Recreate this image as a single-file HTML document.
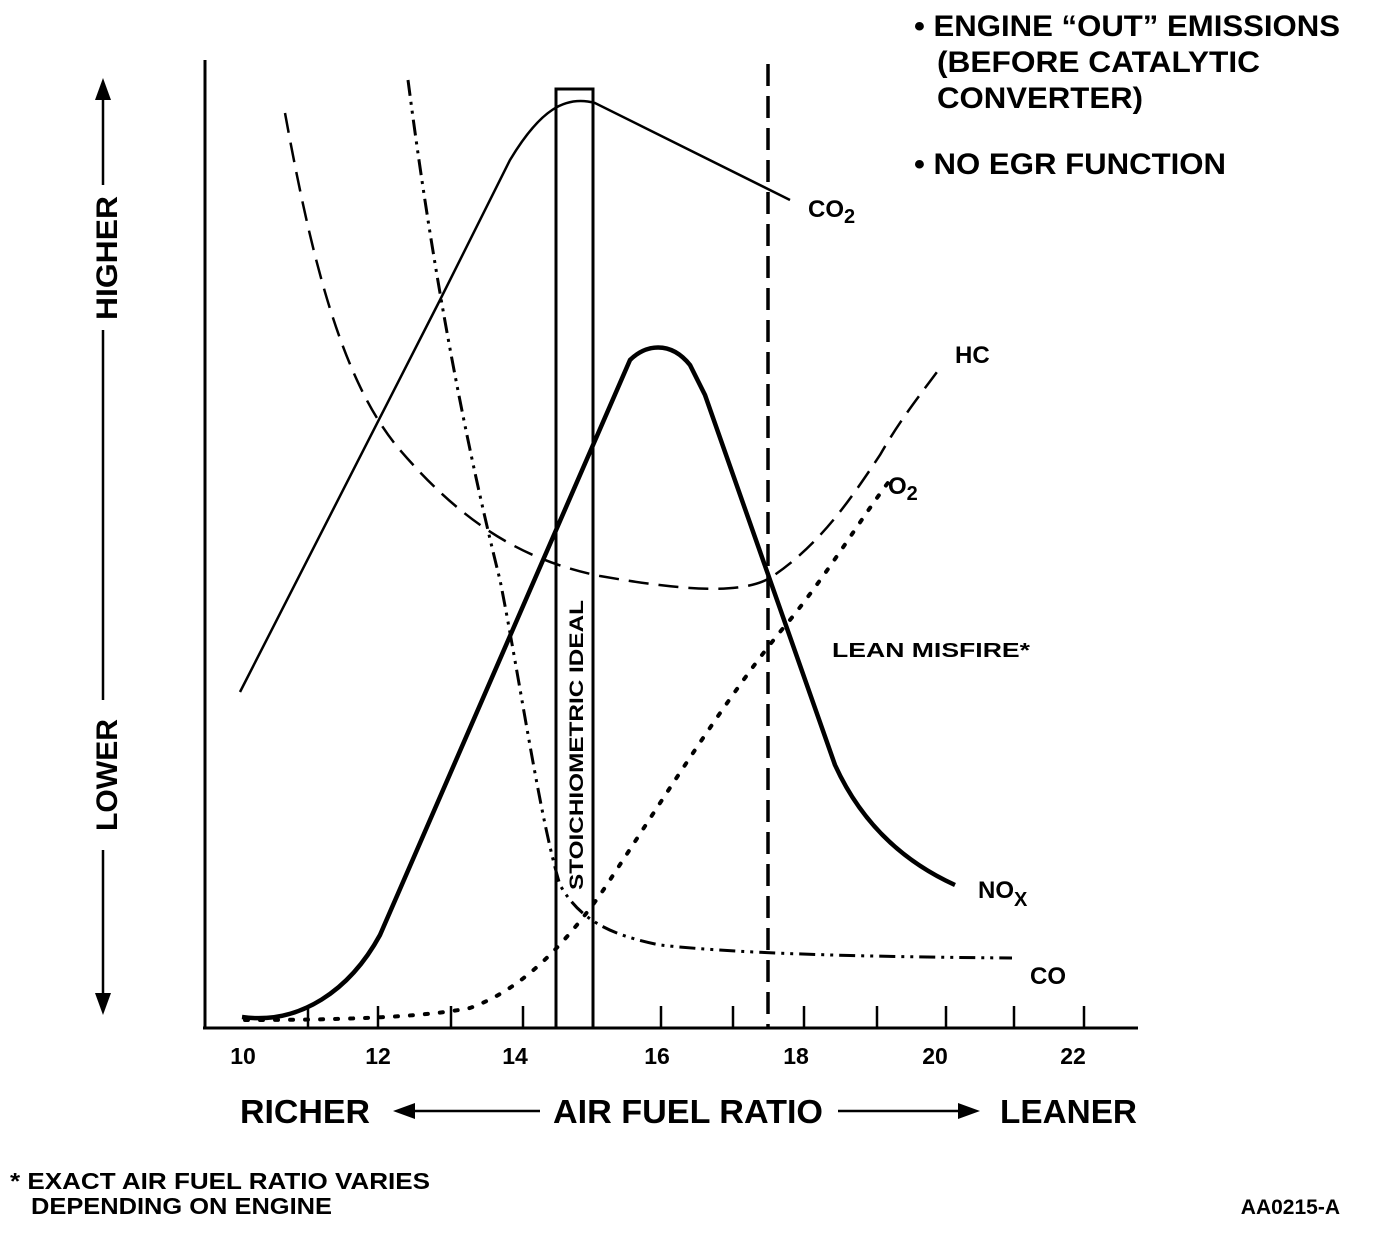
<!DOCTYPE html>
<html><head><style>
html,body{margin:0;padding:0;background:#fff;}
svg text{font-family:"Liberation Sans",Arial,sans-serif;font-weight:bold;fill:#000;}
</style></head><body>
<svg width="1392" height="1238" viewBox="0 0 1392 1238" xmlns="http://www.w3.org/2000/svg">
<g stroke="#000" fill="none">
<line x1="205" y1="60" x2="205" y2="1029" stroke-width="3"/>
<line x1="203" y1="1028" x2="1138" y2="1028" stroke-width="3"/>
<g stroke-width="2.5">
<line x1="308" y1="1006" x2="308" y2="1028"/><line x1="378" y1="1006" x2="378" y2="1028"/>
<line x1="451" y1="1006" x2="451" y2="1028"/><line x1="523" y1="1006" x2="523" y2="1028"/>
<line x1="661" y1="1006" x2="661" y2="1028"/><line x1="733" y1="1006" x2="733" y2="1028"/>
<line x1="804" y1="1006" x2="804" y2="1028"/><line x1="877" y1="1006" x2="877" y2="1028"/>
<line x1="946" y1="1006" x2="946" y2="1028"/><line x1="1014" y1="1006" x2="1014" y2="1028"/>
<line x1="1084" y1="1006" x2="1084" y2="1028"/>
</g>
<rect x="556" y="89" width="37" height="939" stroke-width="3"/>
<line x1="768" y1="64" x2="768" y2="1028" stroke-width="3.5" stroke-dasharray="22,10"/>
<path d="M240,692 L440,300 L510,160 C540,110 565,95 595,103 L790,200" stroke-width="2.5"/>
<path d="M242,1017 C300,1025 350,990 380,935 L630,360 C645,345 670,340 690,365 L705,395 L835,765 C860,820 900,860 955,885" stroke-width="4.5"/>
<path d="M285,113 C310,250 340,380 400,450 C460,520 520,560 600,576 C680,590 740,595 770,578 C820,545 850,500 880,455 C900,420 920,395 940,368" stroke-width="2.5" stroke-dasharray="20,10"/>
<path d="M408,80 C430,250 460,420 500,580 C520,680 540,820 560,885 C580,920 610,935 660,945 C750,955 900,957 1012,958" stroke-width="3" stroke-dasharray="16,6,3,6,3,6"/>
<path d="M245,1020 C330,1020 420,1018 470,1008 C520,990 560,950 600,895 C650,820 730,690 790,620 C830,570 860,520 890,480" stroke-width="4" stroke-dasharray="3,12" stroke-linecap="round"/>
<line x1="103" y1="90" x2="103" y2="185" stroke-width="2.5"/>
<line x1="103" y1="330" x2="103" y2="700" stroke-width="2.5"/>
<line x1="103" y1="850" x2="103" y2="1005" stroke-width="2.5"/>
<line x1="410" y1="1111" x2="540" y2="1111" stroke-width="2.5"/>
<line x1="838" y1="1111" x2="965" y2="1111" stroke-width="2.5"/>
</g>
<polygon points="103,78 95,100 111,100" fill="#000"/>
<polygon points="103,1015 95,993 111,993" fill="#000"/>
<polygon points="393,1111 415,1103 415,1119" fill="#000"/>
<polygon points="980,1111 958,1103 958,1119" fill="#000"/>
<g font-size="23" text-anchor="middle">
<text x="243" y="1064">10</text><text x="378" y="1064">12</text><text x="515" y="1064">14</text>
<text x="657" y="1064">16</text><text x="796" y="1064">18</text><text x="935" y="1064">20</text><text x="1073" y="1064">22</text>
</g>
<text transform="translate(583,745) rotate(-90)" font-size="19" text-anchor="middle" textLength="290" lengthAdjust="spacingAndGlyphs">STOICHIOMETRIC IDEAL</text>
<text transform="translate(117,258) rotate(-90)" font-size="30" text-anchor="middle" textLength="124" lengthAdjust="spacingAndGlyphs">HIGHER</text>
<text transform="translate(117,775) rotate(-90)" font-size="30" text-anchor="middle" textLength="112" lengthAdjust="spacingAndGlyphs">LOWER</text>
<g font-size="24">
<text x="808" y="217">CO<tspan font-size="20" dy="6">2</tspan></text>
<text x="955" y="363">HC</text>
<text x="888" y="494">O<tspan font-size="20" dy="6">2</tspan></text>
<text x="978" y="898">NO<tspan font-size="20" dy="8">X</tspan></text>
<text x="1030" y="984">CO</text>
</g>
<text x="832" y="657" font-size="20" textLength="198" lengthAdjust="spacingAndGlyphs">LEAN MISFIRE*</text>
<g font-size="30">
<text x="914" y="36" textLength="426" lengthAdjust="spacingAndGlyphs">• ENGINE “OUT” EMISSIONS</text>
<text x="937" y="72" textLength="323" lengthAdjust="spacingAndGlyphs">(BEFORE CATALYTIC</text>
<text x="937" y="108" textLength="206" lengthAdjust="spacingAndGlyphs">CONVERTER)</text>
<text x="914" y="174" textLength="312" lengthAdjust="spacingAndGlyphs">• NO EGR FUNCTION</text>
</g>
<g font-size="33">
<text x="240" y="1123" textLength="130" lengthAdjust="spacingAndGlyphs">RICHER</text>
<text x="553" y="1123" textLength="270" lengthAdjust="spacingAndGlyphs">AIR FUEL RATIO</text>
<text x="1000" y="1123" textLength="137" lengthAdjust="spacingAndGlyphs">LEANER</text>
</g>
<g font-size="23">
<text x="10" y="1189" textLength="420" lengthAdjust="spacingAndGlyphs">* EXACT AIR FUEL RATIO VARIES</text>
<text x="31" y="1214" textLength="301" lengthAdjust="spacingAndGlyphs">DEPENDING ON ENGINE</text>
<text x="1340" y="1214" text-anchor="end" font-size="21">AA0215-A</text>
</g>
</svg>
</body></html>
